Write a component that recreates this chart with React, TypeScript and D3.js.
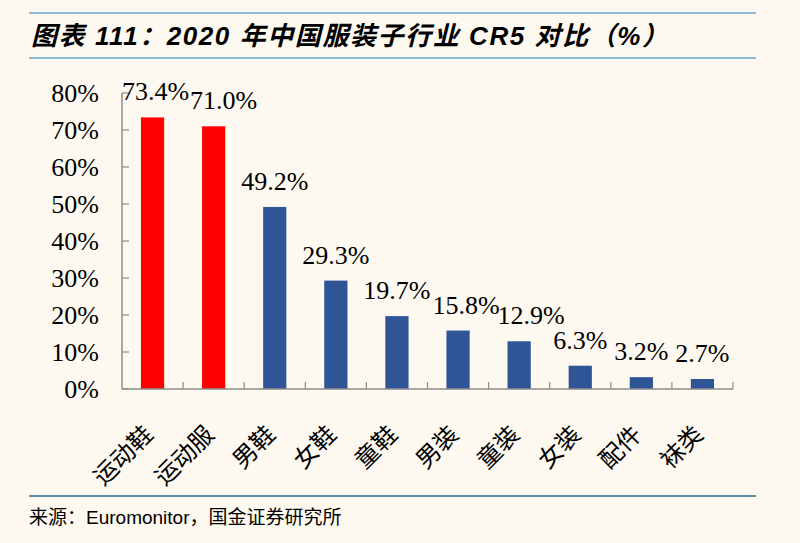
import { scaleBand, scaleLinear } from "d3";

const categories = ["运动鞋", "运动服", "男鞋", "女鞋", "童鞋", "男装", "童装", "女装", "配件", "袜类"];
const values = [73.4, 71.0, 49.2, 29.3, 19.7, 15.8, 12.9, 6.3, 3.2, 2.7];
const highlighted = ["运动鞋", "运动服"];
const yTicks = [0, 10, 20, 30, 40, 50, 60, 70, 80];

const W = 800;
const H = 543;
const PLOT = { left: 122, right: 733, top: 93, bottom: 389 };

const BG = "#fdf9f0";
const RED = "#ff0000";
const BLUE = "#2f5597";
const AXIS = "#8c8c8c";
const SERIF = "'Liberation Serif', 'Times New Roman', serif";
const CJK = "'Noto Sans CJK SC', sans-serif";

// labels nudged right where neighbours would collide (as in the source)
const labelShift: Record<number, number> = { 0: 3, 1: 10, 5: 8, 6: 12 };

export default function App() {
  const x = scaleBand<string>().domain(categories).range([PLOT.left, PLOT.right]).paddingInner(0.62).paddingOuter(0.31);
  const y = scaleLinear().domain([0, 80]).range([PLOT.bottom, PLOT.top]);
  const step = x.step();
  const boundaries = categories.map((_, i) => PLOT.left + step * (i + 1));

  return (
    <div style={{ position: "absolute", left: 0, top: 0 }}>
      <svg width={W} height={H} viewBox={`0 0 ${W} ${H}`} style={{ display: "block", background: BG }}>
        <rect x={0} y={0} width={W} height={H} fill={BG} />

        {/* header rules + title */}
        <line x1={29} x2={756} y1={13} y2={13} stroke="#6aa6cf" strokeWidth={1.5} />
        <line x1={29} x2={756} y1={58} y2={58} stroke="#6aa6cf" strokeWidth={1.5} />
        <text
          x={31}
          y={45}
          fontFamily={`'Liberation Sans', ${CJK}`}
          fontWeight={700}
          fontStyle="italic"
          fontSize={26}
          textLength={637}
          lengthAdjust="spacing"
          fill="#000"
        >
          图表 111：2020 年中国服装子行业 CR5 对比（%）
        </text>

        {/* y axis */}
        <line x1={PLOT.left} x2={PLOT.left} y1={PLOT.top} y2={PLOT.bottom} stroke={AXIS} strokeWidth={1.5} />
        {yTicks.map((t) => (
          <g key={t}>
            <line x1={PLOT.left} x2={PLOT.left + 7} y1={y(t)} y2={y(t)} stroke={AXIS} strokeWidth={1.2} />
            <text x={99} y={y(t)} dy="0.34em" textAnchor="end" fontFamily={SERIF} fontSize={26} fill="#000">
              {t}%
            </text>
          </g>
        ))}

        {/* bars */}
        {categories.map((c, i) => (
          <rect
            key={c}
            x={x(c)}
            y={y(values[i])}
            width={x.bandwidth()}
            height={PLOT.bottom - y(values[i])}
            fill={highlighted.includes(c) ? RED : BLUE}
          />
        ))}

        {/* x axis */}
        <line x1={PLOT.left} x2={PLOT.right} y1={PLOT.bottom} y2={PLOT.bottom} stroke={AXIS} strokeWidth={1.5} />
        {boundaries.map((bx, i) => (
          <line key={i} x1={bx} x2={bx} y1={PLOT.bottom} y2={PLOT.bottom - 7} stroke={AXIS} strokeWidth={1.2} />
        ))}

        {/* value labels */}
        {categories.map((c, i) => (
          <text
            key={c}
            x={(x(c) ?? 0) + x.bandwidth() / 2 + (labelShift[i] ?? 0)}
            y={y(values[i]) - 17}
            textAnchor="middle"
            fontFamily={SERIF}
            fontSize={26}
            fill="#000"
          >
            {values[i].toFixed(1)}%
          </text>
        ))}

        {/* category labels */}
        {categories.map((c) => {
          const cx = (x(c) ?? 0) + x.bandwidth() / 2 - 4;
          const cy = 430;
          return (
            <text
              key={c}
              transform={`translate(${cx},${cy}) rotate(-45)`}
              textAnchor="end"
              dy="0.35em"
              fontFamily={CJK}
              fontSize={24}
              fill="#000"
            >
              {c}
            </text>
          );
        })}

        {/* footer */}
        <line x1={29} x2={756} y1={496} y2={496} stroke="#5a8fa8" strokeWidth={2} />
        <text x={29} y={524} fontFamily={`'Liberation Sans', ${CJK}`} fontSize={19} fill="#000">
          来源：Euromonitor，国金证券研究所
        </text>
      </svg>
    </div>
  );
}
